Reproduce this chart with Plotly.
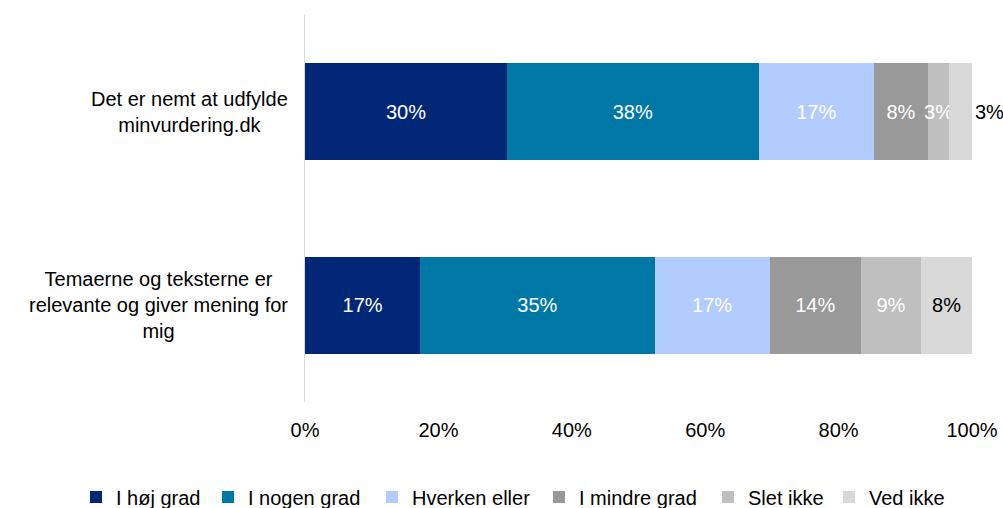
import plotly.graph_objects as go

categories = ["Det er nemt at udfylde<br>minvurdering.dk",
              "Temaerne og teksterne er<br>relevante og giver mening for<br>mig"]
series_names = ["I høj grad", "I nogen grad", "Hverken eller", "I mindre grad", "Slet ikke", "Ved ikke"]
values_row1 = [30.3, 37.7, 17.3, 8.1, 3.2, 3.4]
values_row2 = [17.3, 35.1, 17.3, 13.6, 9.1, 7.6]
colors = ["#002776", "#0078A6", "#B3CCFF", "#999999", "#BFBFBF", "#D9D9D9"]
text_colors = ["white", "white", "white", "white", "white", "black"]
x_ticks = [0, 20, 40, 60, 80, 100]
x_ticktext = [f"{t}%" for t in x_ticks]

FONT = "Liberation Sans, Arial, sans-serif"
FS = 20
W, H = 1003, 508
ys = [0, 1]

# legend square centres in window px
legend_px = [96, 228, 392, 559, 728, 849]

fig = go.Figure()
legend_layouts = {}
for i, name in enumerate(series_names):
    vals = [values_row1[i], values_row2[i]]
    texts = [f"{round(v)}%" for v in vals]
    pos = ["outside", "inside"] if i == len(series_names) - 1 else ["inside", "inside"]
    lname = "legend" if i == 0 else f"legend{i+1}"
    fig.add_trace(go.Bar(
        name=name, y=ys, x=vals, orientation="h",
        marker=dict(color=colors[i], line=dict(width=0)),
        text=texts, textposition=pos, textangle=0,
        insidetextanchor="middle", constraintext="none",
        textfont=dict(color=text_colors[i], size=FS, family=FONT),
        outsidetextfont=dict(color="black", size=FS, family=FONT),
        cliponaxis=False, width=0.5, legend=lname, showlegend=True,
    ))
    legend_layouts[lname] = dict(
        visible=True,
        orientation="h", xref="container", yref="container",
        x=(legend_px[i] - 20) / W, xanchor="left",
        y=1 - 497 / H, yanchor="middle",
        font=dict(size=FS, family=FONT, color="black"),
        itemwidth=30, bgcolor="rgba(0,0,0,0)", borderwidth=0,
    )

for yv, cat in zip(ys, categories):
    fig.add_annotation(x=0, y=yv, xref="x", yref="y", text=cat,
                       xanchor="right", yanchor="middle", align="center",
                       xshift=-15, showarrow=False,
                       font=dict(size=FS, color="black", family=FONT))

fig.update_layout(
    barmode="stack",
    width=W, height=H,
    showlegend=True,
    margin=dict(l=305, r=31, t=15, b=106, autoexpand=False),
    paper_bgcolor="white", plot_bgcolor="white",
    font=dict(family=FONT, size=FS, color="black"),
    xaxis=dict(range=[0, 100], tickmode="array", tickvals=x_ticks, ticktext=x_ticktext,
               showgrid=False, zeroline=False, showline=False, automargin=False,
               ticks="", ticklabelstandoff=14,
               tickfont=dict(size=FS, family=FONT, color="black")),
    yaxis=dict(range=[1.5, -0.5], showgrid=False, zeroline=False, automargin=False,
               showline=True, linecolor="#D9D9D9", linewidth=1,
               showticklabels=False, ticks=""),
    **legend_layouts,
)

fig.write_html("out.html", config={"displayModeBar": False},
               post_script="document.body.style.margin='0';document.body.style.overflow='hidden';")
